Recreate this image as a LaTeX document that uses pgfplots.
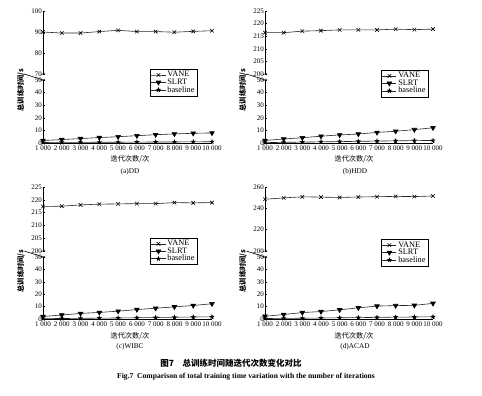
\documentclass[border=0pt]{standalone}
\usepackage{fontspec}
\setmainfont{Liberation Serif}
\newfontfamily\cjk{Noto Sans CJK SC}
\usepackage{pgfplots}
\usepackage{pgfplotstable}
\pgfplotsset{compat=1.18}
\usetikzlibrary{plotmarks}

\pgfdeclareplotmark{fstar}{%
  \pgfpathmoveto{\pgfpointpolar{90}{\pgfplotmarksize}}%
  \pgfpathlineto{\pgfpointpolar{126}{0.42\pgfplotmarksize}}%
  \pgfpathlineto{\pgfpointpolar{162}{\pgfplotmarksize}}%
  \pgfpathlineto{\pgfpointpolar{198}{0.42\pgfplotmarksize}}%
  \pgfpathlineto{\pgfpointpolar{234}{\pgfplotmarksize}}%
  \pgfpathlineto{\pgfpointpolar{270}{0.42\pgfplotmarksize}}%
  \pgfpathlineto{\pgfpointpolar{306}{\pgfplotmarksize}}%
  \pgfpathlineto{\pgfpointpolar{342}{0.42\pgfplotmarksize}}%
  \pgfpathlineto{\pgfpointpolar{18}{\pgfplotmarksize}}%
  \pgfpathlineto{\pgfpointpolar{54}{0.42\pgfplotmarksize}}%
  \pgfpathclose\pgfusepathqfill}

\pgfplotstableread{
x vane slrt base
1000 90.0 2.0 0.4
2000 89.5 2.7 0.5
3000 89.5 3.5 0.5
4000 90.2 4.3 0.6
5000 90.8 5.0 0.6
6000 90.2 5.8 0.7
7000 90.2 6.6 0.8
8000 89.9 7.2 0.8
9000 90.3 7.7 0.9
10000 90.6 8.0 1.0
}\tabDD
\pgfplotstableread{
x vane slrt base
1000 216.4 2.0 0.3
2000 216.4 3.2 0.5
3000 217.0 4.2 0.7
4000 217.2 5.4 0.9
5000 217.5 6.4 1.1
6000 217.5 7.1 1.3
7000 217.5 8.4 1.5
8000 217.8 9.3 1.7
9000 217.6 10.6 1.9
10000 217.8 12.1 2.0
}\tabHDD
\pgfplotstableread{
x vane slrt base
1000 217.4 2.0 0.3
2000 217.5 3.2 0.4
3000 218.0 4.5 0.5
4000 218.3 5.3 0.7
5000 218.4 6.3 0.8
6000 218.5 7.6 1.0
7000 218.5 8.7 1.2
8000 218.9 9.8 1.4
9000 218.8 10.9 1.6
10000 218.9 12.3 1.8
}\tabWIBC
\pgfplotstableread{
x vane slrt base
1000 248.5 2.2 0.4
2000 249.8 3.6 0.5
3000 250.8 5.2 0.6
4000 250.5 6.0 0.8
5000 250.2 7.4 1.0
6000 250.6 9.0 1.1
7000 250.9 10.4 1.3
8000 251.2 10.8 1.5
9000 251.0 11.0 1.6
10000 251.6 12.6 1.8
}\tabACAD

\pgfplotsset{
  brk/.style={scale only axis, width=169pt, xmin=1000, xmax=10000, clip=false,
    scaled x ticks=false, scaled y ticks=false,
    tick align=inside, major tick length=2pt,
    tick style={black, line width=0.45pt},
    axis line style={black, line width=0.6pt},
    /pgf/number format/assume math mode=true,
    tick label style={font=\fontsize{7}{8}\selectfont},
    yticklabel style={inner sep=1pt}},
  upper/.style={brk, axis y line*=left, axis x line=none},
  lower/.style={brk, axis lines*=left, ymin=0, ymax=50, ytick={0,10,20,30,40,50},
    xtick={1000,2000,...,10000},
    xticklabels={1 000,2 000,3 000,4 000,5 000,6 000,7 000,8 000,9 000,10 000},
    xticklabel style={inner sep=1pt, yshift=-2pt},
    legend cell align=left,
    legend image code/.code={\draw[mark repeat=2,mark phase=2] plot coordinates {(0cm,0cm) (0.25cm,0cm) (0.5cm,0cm)};},
    legend style={anchor=north west, draw=black, line width=0.5pt,
      font=\fontsize{8.3}{8.5}\selectfont, inner sep=0.8pt, row sep=-2.6pt,
      nodes={inner sep=1.5pt}}},
  vane/.style={black!85, line width=0.6pt, mark=x, mark size=2.5pt, mark options={solid, black}},
  slrt/.style={black!85, line width=0.6pt, mark=triangle*, mark size=2.7pt, mark options={rotate=180, fill=black, draw=black}},
  base/.style={black!85, line width=0.6pt, mark=fstar, mark size=2.8pt, mark options={fill=black}},
}

\newcommand\breakmarks{%
  \draw[line width=0.45pt] (rel axis cs:0,1) ++(-2.2pt,-0.8pt) -- ++(4.4pt,1.8pt);}
\newcommand\breakmarksup{%
  \draw[line width=0.45pt] (rel axis cs:0,0) ++(-2.2pt,-0.8pt) -- ++(4.4pt,1.8pt);}

\begin{document}
\begin{tikzpicture}
\useasboundingbox (0pt,0pt) rectangle (482pt,396pt);

% ---------- (a) DD ----------
\begin{axis}[upper, at={(43pt,322pt)}, anchor=south west, height=63pt,
  ymin=70, ymax=100, ytick={70,80,90,100}]
  \addplot[vane] table[x=x,y=vane] {\tabDD};
  \breakmarksup
\end{axis}
\begin{axis}[lower, at={(43pt,253pt)}, anchor=south west, height=63pt,
  legend style={at={(0.633,1.175)}}]
  \addlegendimage{vane}\addlegendentry{VANE}
  \addplot[slrt] table[x=x,y=slrt] {\tabDD};\addlegendentry{SLRT}
  \addplot[base] table[x=x,y=base] {\tabDD};\addlegendentry{baseline}
  \draw[line width=0.6pt] (rel axis cs:0,1) -- ++(0,6pt);
  \breakmarks
\end{axis}

% ---------- (b) HDD ----------
\begin{axis}[upper, at={(265pt,322pt)}, anchor=south west, height=63pt, width=168pt,
  ymin=200, ymax=225, ytick={200,205,...,225}]
  \addplot[vane] table[x=x,y=vane] {\tabHDD};
  \breakmarksup
\end{axis}
\begin{axis}[lower, at={(265pt,253pt)}, anchor=south west, height=63pt, width=168pt,
  legend style={at={(0.69,1.16)}}]
  \addlegendimage{vane}\addlegendentry{VANE}
  \addplot[slrt] table[x=x,y=slrt] {\tabHDD};\addlegendentry{SLRT}
  \addplot[base] table[x=x,y=base] {\tabHDD};\addlegendentry{baseline}
  \draw[line width=0.6pt] (rel axis cs:0,1) -- ++(0,6pt);
  \breakmarks
\end{axis}

% ---------- (c) WIBC ----------
\begin{axis}[upper, at={(43pt,145pt)}, anchor=south west, height=64pt,
  ymin=200, ymax=225, ytick={200,205,...,225}]
  \addplot[vane] table[x=x,y=vane] {\tabWIBC};
  \breakmarksup
\end{axis}
\begin{axis}[lower, at={(43pt,77pt)}, anchor=south west, height=62pt,
  legend style={at={(0.633,1.31)}}]
  \addlegendimage{vane}\addlegendentry{VANE}
  \addplot[slrt] table[x=x,y=slrt] {\tabWIBC};\addlegendentry{SLRT}
  \addplot[base] table[x=x,y=base] {\tabWIBC};\addlegendentry{baseline}
  \draw[line width=0.6pt] (rel axis cs:0,1) -- ++(0,6pt);
  \breakmarks
\end{axis}

% ---------- (d) ACAD ----------
\begin{axis}[upper, at={(265pt,145pt)}, anchor=south west, height=64pt, width=168pt,
  ymin=200, ymax=260, ytick={200,220,240,260}]
  \addplot[vane] table[x=x,y=vane] {\tabACAD};
  \breakmarksup
\end{axis}
\begin{axis}[lower, at={(265pt,77pt)}, anchor=south west, height=62pt, width=168pt,
  legend style={at={(0.69,1.29)}}]
  \addlegendimage{vane}\addlegendentry{VANE}
  \addplot[slrt] table[x=x,y=slrt] {\tabACAD};\addlegendentry{SLRT}
  \addplot[base] table[x=x,y=base] {\tabACAD};\addlegendentry{baseline}
  \draw[line width=0.6pt] (rel axis cs:0,1) -- ++(0,6pt);
  \breakmarks
\end{axis}

% ---------- labels ----------
\foreach \xx/\yy in {21/306, 243/306, 21/125, 243/125}{
  \node[rotate=90, inner sep=0pt, font=\cjk\bfseries\fontsize{7.2}{8}\selectfont] at (\xx pt,\yy pt) {总训练时间/s};
}
\foreach \xx/\yy in {130/237, 354/237, 130/60, 354/60}{
  \node[inner sep=0pt, font=\cjk\fontsize{7.2}{8}\selectfont] at (\xx pt,\yy pt) {迭代次数/次};
}
\node[inner sep=0pt, font=\fontsize{7.3}{8}\selectfont] at (130pt,224pt) {(a)DD};
\node[inner sep=0pt, font=\fontsize{7.3}{8}\selectfont] at (355pt,224pt) {(b)HDD};
\node[inner sep=0pt, font=\fontsize{7.3}{8}\selectfont] at (130pt,49pt) {(c)WIBC};
\node[inner sep=0pt, font=\fontsize{7.3}{8}\selectfont] at (355pt,49pt) {(d)ACAD};

\node[inner sep=0pt, font=\cjk\bfseries\fontsize{8.5}{9}\selectfont] at (231pt,33pt) {图7\quad 总训练时间随迭代次数变化对比};
\node[inner sep=0pt, font=\bfseries\fontsize{7.6}{8}\selectfont] at (246pt,19pt) {Fig.7\enspace Comparison of total training time variation with the number of iterations};
\end{tikzpicture}
\end{document}
